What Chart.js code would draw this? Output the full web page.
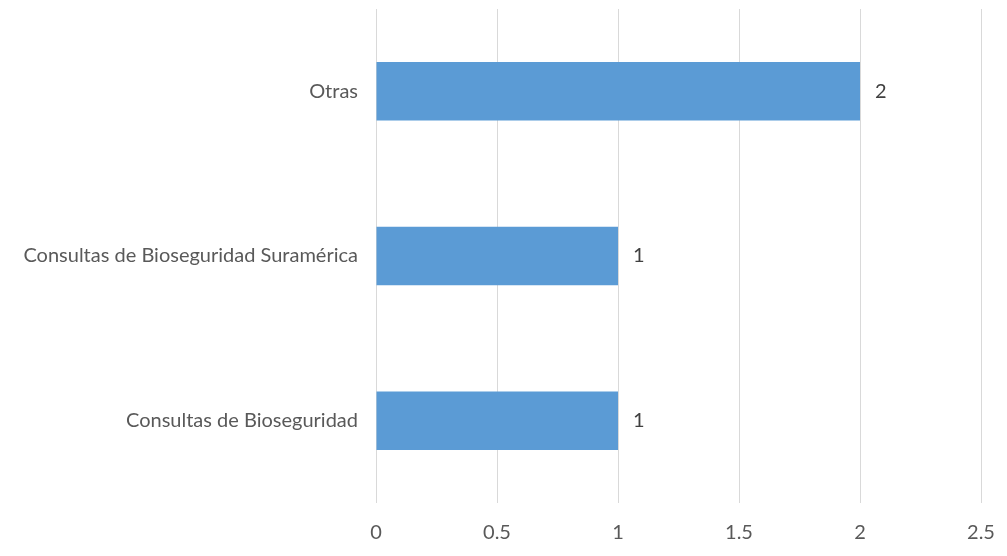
<!DOCTYPE html>
<html>
<head>
<meta charset="utf-8">
<script src="https://cdn.jsdelivr.net/npm/chart.js@4"></script>
<style>
  html, body { margin: 0; padding: 0; background: #fff; }
  #wrap { width: 1007px; height: 556px; }
</style>
</head>
<body>
<div id="wrap"><canvas id="myChart" width="1007" height="556"></canvas></div>
<script>
const categories = ['Otras', 'Consultas de Bioseguridad Suramérica', 'Consultas de Bioseguridad'];
const values = [2, 1, 1];
const xTicks = [0, 0.5, 1, 1.5, 2, 2.5];

const FONT = "Lato, sans-serif";
const SIZE = 20;

// draws the value next to each bar
const barLabels = {
    id: 'barLabels',
    afterDatasetsDraw(chart) {
        const ctx = chart.ctx;
        const meta = chart.getDatasetMeta(0);
        ctx.save();
        ctx.font = SIZE + 'px ' + FONT;
        ctx.fillStyle = '#404040';
        ctx.textBaseline = 'middle';
        ctx.textAlign = 'left';
        meta.data.forEach((bar, i) => {
            ctx.fillText(String(values[i]), bar.x + 15, bar.y);
        });
        ctx.restore();
    }
};

function initChart() {
    const ctx = document.getElementById('myChart').getContext('2d');
    new Chart(ctx, {
        type: 'bar',
        data: {
            labels: categories,
            datasets: [{
                data: values,
                backgroundColor: '#5B9BD5',
                borderWidth: 0,
                categoryPercentage: 1,
                barPercentage: 0.355
            }]
        },
        options: {
            indexAxis: 'y',
            responsive: false,
            animation: false,
            layout: { padding: { top: 9, right: 26, left: 0, bottom: 0 } },
            plugins: {
                legend: { display: false },
                tooltip: { enabled: false }
            },
            scales: {
                x: {
                    min: 0,
                    max: 2.5,
                    afterBuildTicks(axis) {
                        axis.ticks = xTicks.map(v => ({ value: v }));
                    },
                    afterFit(axis) {
                        axis.height = 53;
                        axis.paddingLeft = 0;
                        axis.paddingRight = 0;
                    },
                    grid: { color: '#d9d9d9', lineWidth: 1, drawTicks: false },
                    border: { display: false },
                    ticks: {
                        padding: 18,
                        color: '#595959',
                        font: { family: FONT, size: SIZE },
                        callback: v => String(v)
                    }
                },
                y: {
                    afterFit(axis) {
                        axis.width = 376;
                        axis.paddingTop = 0;
                        axis.paddingBottom = 0;
                    },
                    grid: { display: false, drawTicks: false },
                    border: { display: false },
                    ticks: {
                        padding: 18,
                        color: '#595959',
                        font: { family: FONT, size: SIZE }
                    }
                }
            }
        },
        plugins: [barLabels]
    });
}

initChart();
</script>
</body>
</html>
